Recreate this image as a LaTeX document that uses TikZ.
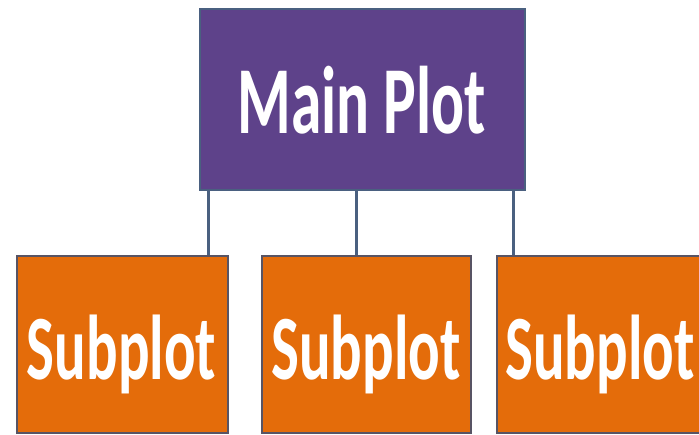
\documentclass[tikz,border=0pt]{standalone}
\usepackage{fontspec}
\setmainfont{Carlito}
\usepackage{tikz}
\usetikzlibrary{calc}
\usetikzlibrary{positioning}
\definecolor{plotpurple}{RGB}{94,66,138}
\definecolor{plotorange}{RGB}{228,108,10}
\definecolor{linkblue}{RGB}{74,96,128}
\definecolor{edgegrey}{RGB}{88,84,100}
\newcommand{\squeeze}[1]{\scalebox{0.64}[1]{#1}}
\tikzset{
  mainbox/.style={rectangle,fill=plotpurple,draw=linkblue,line width=1.5pt,minimum width=325pt,minimum height=181pt,inner sep=0pt,text=white,font=\fontsize{96}{96}\selectfont\bfseries},
  subbox/.style={rectangle,fill=plotorange,draw=edgegrey,line width=1.5pt,minimum height=177pt,inner sep=0pt,text=white,font=\fontsize{92}{92}\selectfont\bfseries},
  link/.style={draw=linkblue,line width=2.6pt}
}
\begin{document}
\begin{tikzpicture}[x=1pt,y=-1pt]
      \useasboundingbox (0,0) rectangle (699,435);
      \node[mainbox] (main) at (362.5,99.5) {};
      \node[subbox,minimum width=211pt] (sub1) at (122.5,344.5) {};
      \node[subbox,minimum width=209pt] (sub2) at (366.5,344.5) {};
      \node[subbox,minimum width=204pt] (sub3) at (599,344.5) {};
      \node[text=white,font=\fontsize{96}{96}\selectfont\bfseries] (t0) at (361.5,100) {\squeeze{Main Plot}};
      \node[text=white,font=\fontsize{92}{92}\selectfont\bfseries] (t1) at (121.5,354) {\squeeze{Subplot}};
      \node[text=white,font=\fontsize{92}{92}\selectfont\bfseries] (t2) at (366,354) {\squeeze{Subplot}};
      \node[text=white,font=\fontsize{92}{92}\selectfont\bfseries] (t3) at (600,354) {\squeeze{Subplot}};
      \draw[link] ([xshift=9pt]main.south west) -- ([xshift=9pt]main.south west |- sub1.north);
      \draw[link] ([xshift=157pt]main.south west) -- ([xshift=157pt]main.south west |- sub2.north);
      \draw[link] ([xshift=314pt]main.south west) -- ([xshift=314pt]main.south west |- sub3.north);
    \end{tikzpicture}
\end{document}
